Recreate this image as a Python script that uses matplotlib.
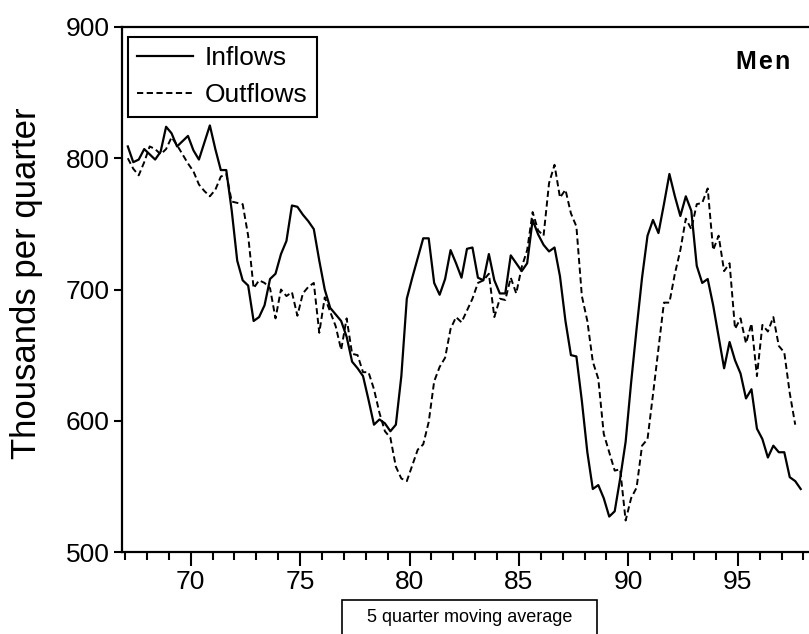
import numpy as np
import matplotlib.pyplot as plt
from matplotlib.ticker import MultipleLocator
from matplotlib.patches import Rectangle

# quarterly flows, thousands, 5 quarter moving average (men)
start_year = 67
inflows = [809, 797, 799, 807, 803, 799, 805, 824, 819, 809,
           813, 817, 806, 799, 812, 825, 807, 791, 791, 760,
           722, 707, 703, 676, 679, 688, 708, 712, 727, 737,
           764, 763, 757, 752, 746, 722, 700, 686, 681, 676,
           664, 645, 640, 634, 616, 597, 601, 598, 592, 597,
           634, 693, 709, 724, 739, 739, 705, 696, 708, 730,
           720, 709, 731, 732, 709, 707, 727, 707, 697, 697,
           726, 720, 714, 720, 753, 742, 734, 729, 732, 710,
           676, 650, 649, 615, 576, 548, 551, 541, 527, 531,
           556, 584, 629, 670, 709, 741, 753, 743, 765, 788,
           771, 756, 771, 760, 718, 705, 708, 688, 664, 640,
           660, 646, 636, 617, 624, 594, 586, 572, 581, 576,
           576, 557, 554, 548]
outflows = [800, 792, 787, 797, 809, 807, 803, 807, 816, 810,
            803, 796, 790, 780, 775, 771, 776, 786, 788, 767,
            766, 765, 741, 701, 707, 705, 701, 678, 700, 695,
            698, 680, 697, 702, 705, 667, 694, 683, 672, 654,
            678, 651, 650, 637, 637, 624, 606, 592, 587, 565,
            556, 554, 566, 578, 582, 599, 630, 641, 648, 670,
            679, 675, 684, 693, 705, 707, 712, 679, 693, 692,
            709, 697, 717, 730, 759, 745, 741, 781, 795, 770,
            776, 758, 748, 695, 676, 645, 632, 590, 576, 562,
            563, 524, 541, 549, 581, 586, 620, 655, 690, 690,
            712, 730, 754, 746, 765, 766, 777, 730, 741, 714,
            720, 670, 678, 659, 674, 634, 673, 668, 679, 657,
            652, 621, 597]

plt.rcParams['font.family'] = ['Liberation Sans', 'DejaVu Sans']

W, H = 809, 634
fig = plt.figure(figsize=(W / 100, H / 100), dpi=100, facecolor='white')
ax = fig.add_axes([122 / W, 82 / H, 688 / W, 525 / H])

x_in = start_year + (np.arange(len(inflows)) + 0.5) / 4
x_out = start_year + (np.arange(len(outflows)) + 0.5) / 4
ax.plot(x_in, inflows, color='black', lw=1.6, label='Inflows')
ax.plot(x_out, outflows, color='black', lw=1.4, ls=(0, (3.2, 1.8)), label='Outflows')

ax.set_xlim(66.86, 98.3)
ax.set_ylim(500, 900)
ax.xaxis.set_major_locator(MultipleLocator(5))
ax.xaxis.set_minor_locator(MultipleLocator(1))
ax.yaxis.set_major_locator(MultipleLocator(100))
ax.tick_params(axis='x', which='major', length=10, width=1.5, labelsize=19, pad=3)
ax.tick_params(axis='x', which='minor', length=6, width=1.5)
ax.tick_params(axis='y', which='major', length=6, width=1.5, labelsize=19, pad=3)
for side in ['left', 'bottom', 'top']:
    ax.spines[side].set_linewidth(1.6)
ax.spines['right'].set_visible(False)

leg = ax.legend(loc='upper left', bbox_to_anchor=(6 / 688, 1 - 10 / 525),
                borderaxespad=0, fancybox=False, edgecolor='black', fontsize=19,
                handlelength=2.1, handletextpad=0.45, borderpad=0.35, labelspacing=0.5,
                framealpha=1)
leg.get_frame().set_linewidth(1.5)

ax.text(0.971, 0.933, '\u200a'.join('Men'), transform=ax.transAxes,
        ha='right', va='center', fontsize=18, fontweight='bold')

fig.text(27 / W, 1 - 283 / H, 'Thousands per quarter', rotation=90,
         ha='center', va='center', fontsize=25)

fig.patches.append(Rectangle((342 / W, -0.01), 255 / W, 34 / H + 0.01,
                             transform=fig.transFigure, fill=False,
                             edgecolor='black', lw=1.2))
fig.text(470 / W, 1 - 617 / H, '5 quarter moving average', ha='center', va='center',
         fontsize=13)

plt.savefig('out.png', dpi=100)
